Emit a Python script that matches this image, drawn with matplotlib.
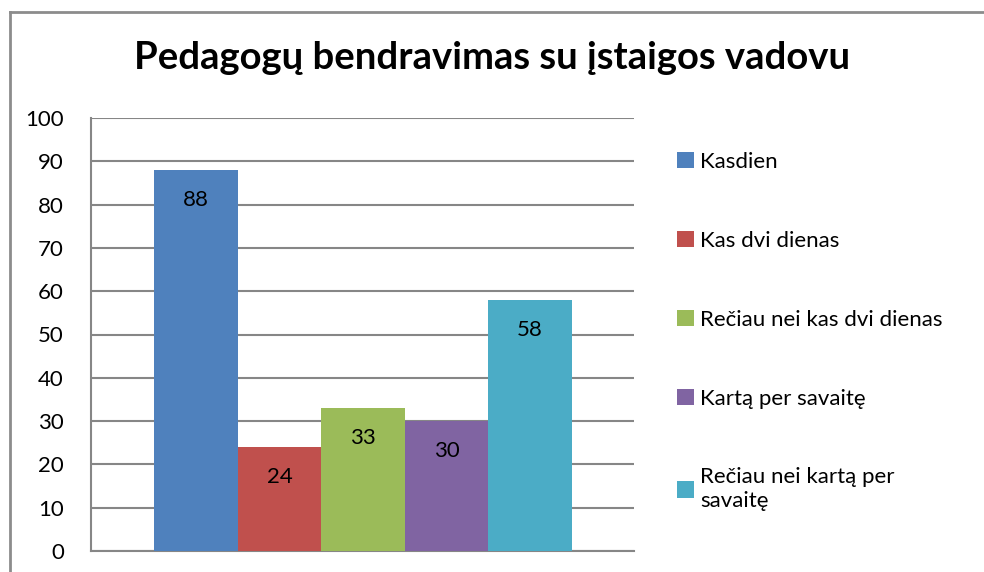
import matplotlib
matplotlib.use('Agg')
import matplotlib.pyplot as plt
from matplotlib.lines import Line2D

plt.rcParams['font.family'] = ['Lato', 'DejaVu Sans']

# duomenys
title = "Pedagogų bendravimas su įstaigos vadovu"
categories = ["Kasdien", "Kas dvi dienas", "Rečiau nei kas dvi dienas",
              "Kartą per savaitę", "Rečiau nei kartą per\nsavaitę"]
values = [88, 24, 33, 30, 58]
colors = ["#4f81bd", "#c0504d", "#9bbb59", "#8064a2", "#4bacc6"]
yticks = [0, 10, 20, 30, 40, 50, 60, 70, 80, 90, 100]

W, H = 984, 572
fig = plt.figure(figsize=(W / 100, H / 100), dpi=100)
ax = fig.add_axes([91 / W, (H - 551) / H, 543 / W, (551 - 118) / H])

n = len(values)
bars = []
for i, (cat, val, col) in enumerate(zip(categories, values, colors)):
    x = i - (n - 1) / 2
    b = ax.bar(x, val, width=1.0, color=col, label=cat, zorder=3)
    bars.append(b[0])
    ax.annotate(str(val), xy=(x, val), xytext=(0, -30), textcoords='offset pixels',
                ha='center', va='center', fontsize=16, color='black', zorder=4)

ax.set_xlim(-n / 2 - 0.755, n / 2 + 0.745)
ax.set_ylim(0, 100)
ax.set_yticks(yticks)
ax.set_xticks([])
ax.tick_params(axis='y', length=0, pad=19.5, labelsize=16)
ax.yaxis.grid(True, color='#868686', linewidth=1.5, zorder=0)
for s in ['top', 'right']:
    ax.spines[s].set_visible(False)
for s in ['left', 'bottom']:
    ax.spines[s].set_color('#868686')
    ax.spines[s].set_linewidth(1.5)

fig.text(492 / W, 1 - 58 / H, title, ha='center', va='center',
         fontsize=27.5, fontweight='bold')

leg = fig.legend(handles=bars, labels=categories, loc='upper left',
                 bbox_to_anchor=(668 / W, 1 - 143 / H), frameon=False,
                 fontsize=16, handlelength=0.76, handleheight=0.76,
                 handletextpad=0.28, labelspacing=2.65, borderaxespad=0)

# ramelis aplink diagramą
frame_col = '#8c8c8c'
fig.add_artist(Line2D([9.5 / W, 9.5 / W], [0, 1 - 12 / H], color=frame_col, linewidth=2))
fig.add_artist(Line2D([9.5 / W, 1], [1 - 12 / H, 1 - 12 / H], color=frame_col, linewidth=2))

fig.savefig('out.png', dpi=100)
